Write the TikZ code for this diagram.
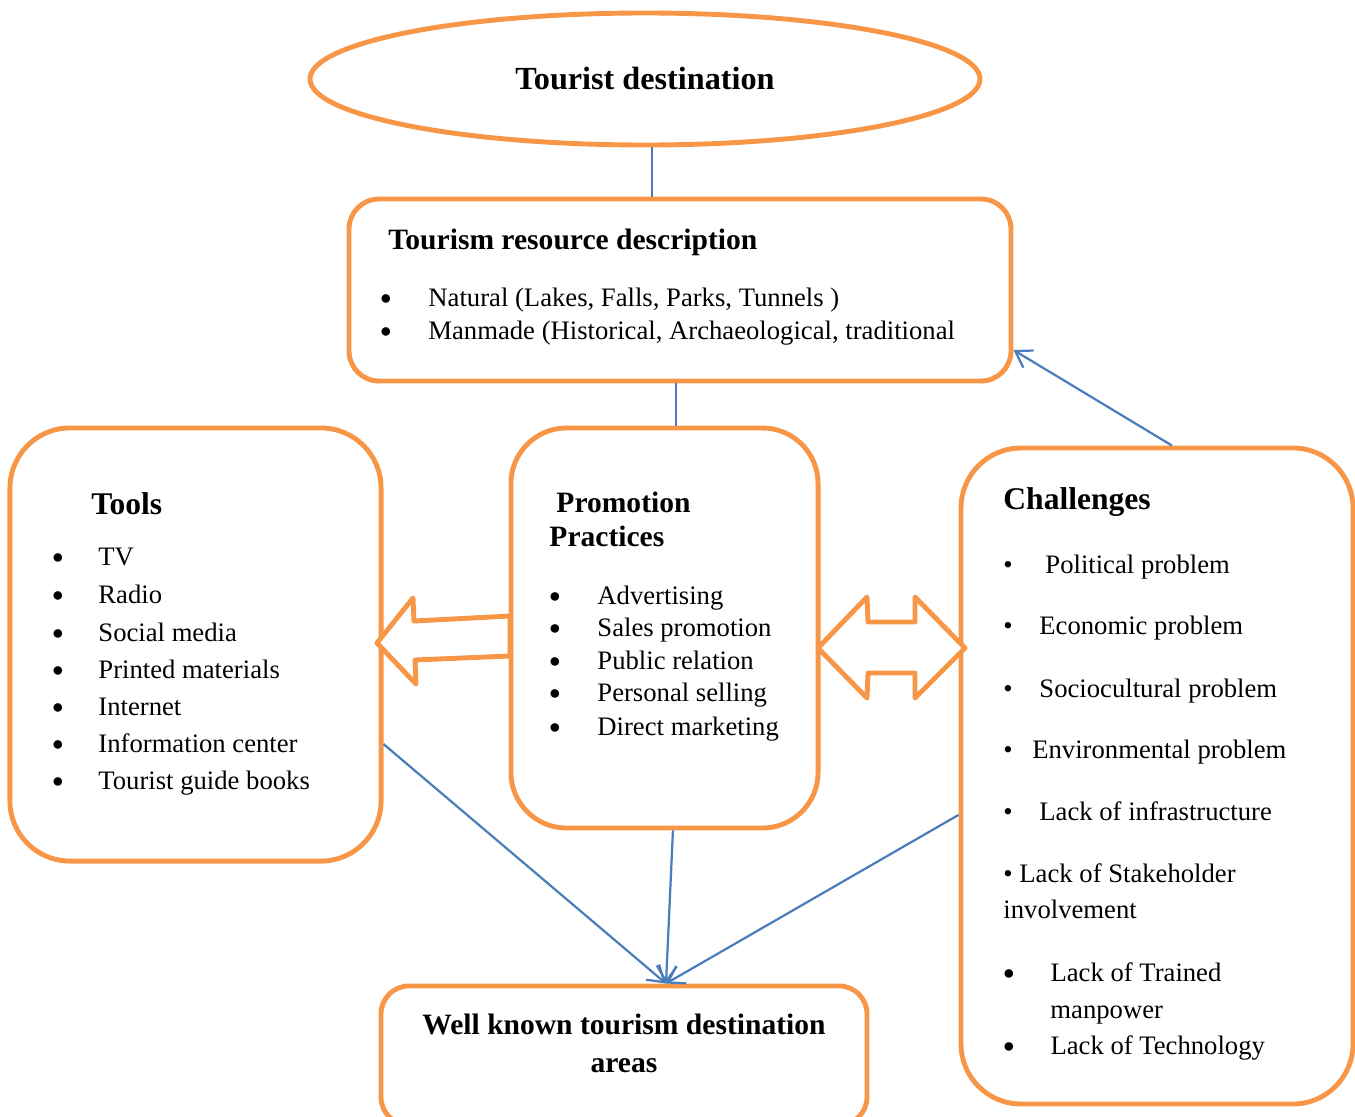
\documentclass[tikz,border=0pt]{standalone}
\usepackage{fontspec}
\setmainfont{Liberation Serif}
\usetikzlibrary{shapes.geometric,arrows.meta}
\definecolor{boxorange}{RGB}{247,150,70}
\definecolor{linkblue}{RGB}{74,126,187}
\tikzset{
  frame/.style={draw=boxorange, line width=2.2pt, fill=white, inner sep=0pt},
  blockarrow/.style={draw=boxorange, line width=2.2pt, fill=white, line join=round},
  conn/.style={draw=linkblue, line width=1pt},
  connarrow/.style={conn, -{Straight Barb[length=7pt,width=9pt]}},
  head/.style={anchor=base west, inner sep=0pt, font=\fontsize{13.3}{17}\selectfont\bfseries},
  bighead/.style={head, font=\fontsize{14.2}{17}\selectfont\bfseries},
  item/.style={anchor=base west, inner sep=0pt, font=\fontsize{12}{14}\selectfont},
}
\newcommand{\itemdot}[1]{\makebox[#1][l]{\raisebox{0.9pt}{\fontsize{10}{12}\selectfont$\bullet$}}}
\newcommand{\smalldot}[1]{\makebox[#1][l]{\textbullet}}
\begin{document}
\begin{tikzpicture}[x=0.45pt,y=-0.45pt]
    \useasboundingbox (0,0) rectangle (1355,1117);
    \clip (0,0) rectangle (1355,1117);

    % Boxes
    \node[frame, ellipse, minimum width=301.5pt, minimum height=59.4pt,
          font=\fontsize{14.5}{17}\selectfont\bfseries] (dest) at (645,79) {Tourist destination};
    \node[frame, rounded corners=13.5pt, minimum width=297.9pt, minimum height=81.9pt] (res) at (680,290) {};
    \node[frame, rounded corners=25pt, minimum width=138.2pt, minimum height=180pt] (promo) at (664.5,628) {};
    \node[frame, rounded corners=27pt, minimum width=167pt, minimum height=194.9pt] (tools) at (195.5,644.5) {};
    \node[frame, rounded corners=27pt, minimum width=176.4pt, minimum height=295.2pt] (chal) at (1157,776) {};
    \node[frame, rounded corners=12.6pt, minimum width=218.7pt, minimum height=62.6pt] (known) at (624,1055.5) {};

    % Block arrows
    \draw[blockarrow] (510,616) -- (414,621) -- (413,598) -- (377,643) -- (416,684)
        -- (415,660) -- (510,656) -- cycle;
    \draw[blockarrow] (818,648) -- (867,597) -- (868,622) -- (915,622) -- (915,597)
        -- (965,648) -- (915,698) -- (915,673) -- (868,673) -- (867,698) -- cycle;

    % Connectors
    \coordinate (hit) at ([xshift=18.9pt]known.north);
    \draw[conn] ([xshift=3.2pt]dest.south) -- ([xshift=3.2pt]dest.south |- res.north);
    \draw[conn] ([xshift=-1.8pt]res.south) -- ([xshift=-1.8pt]res.south |- promo.north);
    \draw[connarrow] ([xshift=6.75pt]chal.north) -- ([yshift=-27pt]res.east);
    \draw[connarrow] ([yshift=-44.8pt]tools.east) -- (hit);
    \draw[connarrow] ([xshift=3.8pt]promo.south) -- (hit);
    \draw[connarrow] ([yshift=-17.5pt]chal.west) -- (hit);

    % Resource description
    \node[head] (restitle) at (388,249) {Tourism resource description};
    \node[item] (res1) at (380,306) {\itemdot{21.6pt}Natural (Lakes, Falls, Parks, Tunnels )};
    \node[item] (res2) at (380,339) {\itemdot{21.6pt}Manmade (Historical, Archaeological, traditional};

    % Tools
    \node[bighead] (toolstitle) at (91,514) {Tools};
    \node[item] (tool1) at (52,565) {\itemdot{20.7pt}TV};
    \node[item] (tool2) at (52,603) {\itemdot{20.7pt}Radio};
    \node[item] (tool3) at (52,641) {\itemdot{20.7pt}Social media};
    \node[item] (tool4) at (52,678) {\itemdot{20.7pt}Printed materials};
    \node[item] (tool5) at (52,715) {\itemdot{20.7pt}Internet};
    \node[item] (tool6) at (52,752) {\itemdot{20.7pt}Information center};
    \node[item] (tool7) at (52,789) {\itemdot{20.7pt}Tourist guide books};

    % Promotion practices
    \node[head] (promotitle) at (556,512) {Promotion};
    \node[head] (promotitleb) at (549,546) {Practices};
    \node[item] (promo1) at (549,604) {\itemdot{21.6pt}Advertising};
    \node[item] (promo2) at (549,636) {\itemdot{21.6pt}Sales promotion};
    \node[item] (promo3) at (549,669) {\itemdot{21.6pt}Public relation};
    \node[item] (promo4) at (549,701) {\itemdot{21.6pt}Personal selling};
    \node[item] (promo5) at (549,735) {\itemdot{21.6pt}Direct marketing};

    % Challenges
    \node[bighead] (chaltitle) at (1003,509) {Challenges};
    \node[item] (chal1) at (1003,573) {\smalldot{18.9pt}Political problem};
    \node[item] (chal2) at (1003,634) {\smalldot{16.2pt}Economic problem};
    \node[item] (chal3) at (1003,697) {\smalldot{16.2pt}Sociocultural problem};
    \node[item] (chal4) at (1003,758) {\smalldot{13pt}Environmental problem};
    \node[item] (chal5) at (1003,820) {\smalldot{16.2pt}Lack of infrastructure};
    \node[item] (chal6) at (1003,882) {\textbullet{} Lack of Stakeholder};
    \node[item] (chal6b) at (1003,918) {involvement};
    \node[item] (chal7) at (1003,981) {\itemdot{21.2pt}Lack of Trained};
    \node[item] (chal7b) at (1050,1018) {manpower};
    \node[item] (chal8) at (1003,1054) {\itemdot{21.2pt}Lack of Technology};

    % Outcome
    \node[head, anchor=center, align=center] (knowntext) at (624,1043)
        {Well known tourism destination\\areas};
\end{tikzpicture}
\end{document}
